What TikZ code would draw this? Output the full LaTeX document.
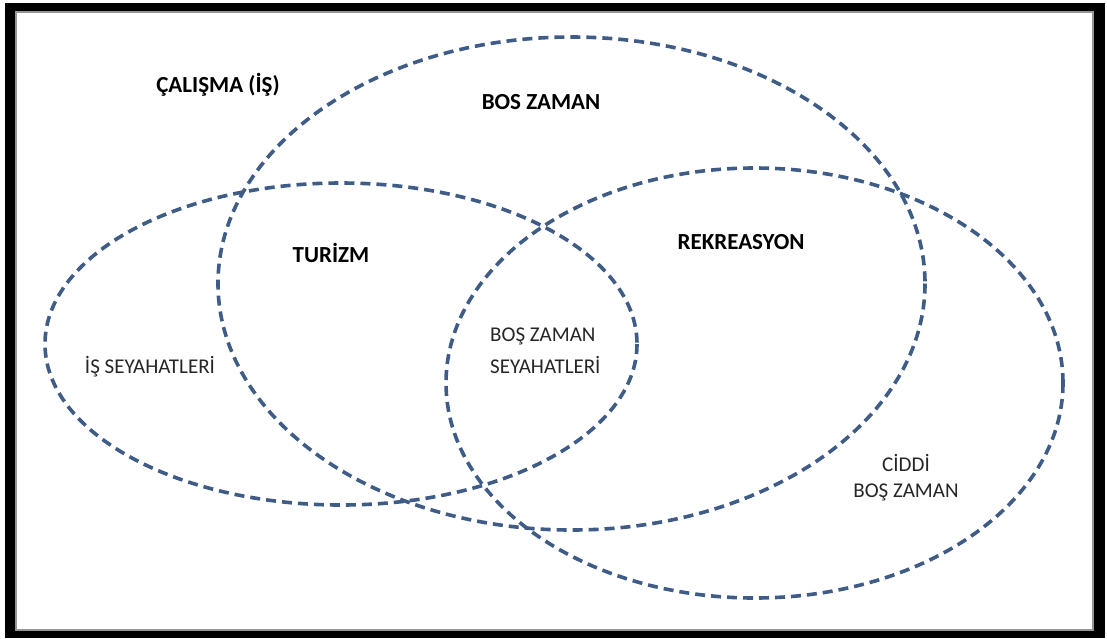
\documentclass[tikz,border=0pt]{standalone}
\usepackage{fontspec}
\setmainfont{Carlito}
\begin{document}
\definecolor{ringblue}{RGB}{62,92,134}
\definecolor{labelgrey}{RGB}{38,38,38}
\definecolor{framegrey}{RGB}{150,150,150}
\begin{tikzpicture}[x=1pt,y=-1pt,
  ring/.style={draw=ringblue, line width=3.6pt, dash pattern=on 10pt off 6pt},
  headlabel/.style={font=\fontsize{23}{26}\selectfont\bfseries, text=black, inner sep=0pt},
  sublabel/.style={font=\fontsize{21}{32}\selectfont, text=labelgrey, inner sep=0pt}]
  \useasboundingbox (0,0) rectangle (1107,638);
  % outer frame
  \fill[black] (5,3) rectangle (1105,638);
  \fill[white] (16,12) rectangle (1093,630);
  \draw[framegrey, line width=1.2pt] (16,12) rectangle (1093,630);
  % the three sets
  \draw[ring] (571.5,283.5) ellipse [x radius=353.5, y radius=246.5];
  \draw[ring] (341,344) ellipse [x radius=296, y radius=161];
  \draw[ring] (754.5,383) ellipse [x radius=308.5, y radius=215];
  % headings
  \node[headlabel] (calisma) at (218,85) {ÇALIŞMA (İŞ)};
  \node[headlabel] (boszaman) at (541,102) {BOS ZAMAN};
  \node[headlabel] (turizm) at (331,253) {TURİZM};
  \node[headlabel] (rekreasyon) at (741,242) {REKREASYON};
  % inner labels
  \node[sublabel] (isseyahat) at (150,367) {İŞ SEYAHATLERİ};
  \node[sublabel, align=left, anchor=west] (bosseyahat) at (490,351) {BOŞ ZAMAN\\SEYAHATLERİ};
  \node[sublabel, align=center, font=\fontsize{21}{26}\selectfont] (ciddi) at (906,477.5) {CİDDİ\\BOŞ ZAMAN};
\end{tikzpicture}
\end{document}
